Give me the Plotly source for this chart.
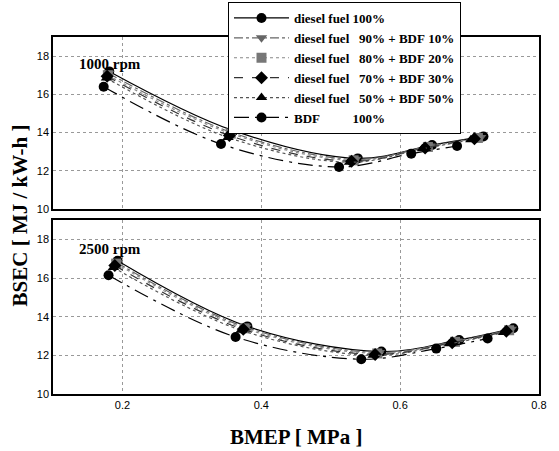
import plotly.graph_objects as go

series_names = [
    "diesel fuel 100%",
    "diesel fuel   90% + BDF 10%",
    "diesel fuel   80% + BDF 20%",
    "diesel fuel   70% + BDF 30%",
    "diesel fuel   50% + BDF 50%",
    "BDF          100%",
]

# 1000 rpm
bmep_1000 = [
    [0.181, 0.360, 0.539, 0.646, 0.720],
    [0.180, 0.358, 0.536, 0.643, 0.716],
    [0.179, 0.356, 0.533, 0.640, 0.712],
    [0.178, 0.354, 0.530, 0.636, 0.707],
    [0.177, 0.352, 0.527, 0.632, 0.702],
    [0.173, 0.342, 0.512, 0.616, 0.682],
]
bsec_1000 = [
    [17.20, 14.10, 12.65, 13.35, 13.80],
    [17.10, 14.00, 12.60, 13.30, 13.75],
    [17.00, 13.95, 12.55, 13.25, 13.72],
    [16.95, 13.85, 12.50, 13.20, 13.68],
    [16.85, 13.75, 12.45, 13.15, 13.62],
    [16.40, 13.40, 12.20, 12.90, 13.30],
]

# 2500 rpm
bmep_2500 = [
    [0.193, 0.380, 0.573, 0.685, 0.763],
    [0.192, 0.378, 0.570, 0.682, 0.760],
    [0.191, 0.376, 0.567, 0.679, 0.757],
    [0.189, 0.374, 0.564, 0.675, 0.753],
    [0.187, 0.371, 0.561, 0.671, 0.749],
    [0.180, 0.363, 0.544, 0.652, 0.726],
]
bsec_2500 = [
    [16.90, 13.50, 12.20, 12.80, 13.40],
    [16.80, 13.45, 12.15, 12.75, 13.35],
    [16.75, 13.40, 12.10, 12.70, 13.30],
    [16.65, 13.35, 12.05, 12.65, 13.25],
    [16.55, 13.30, 12.00, 12.60, 13.18],
    [16.15, 12.95, 11.80, 12.35, 12.87],
]

y_ticks = [10, 12, 14, 16, 18]
x_ticks = [0.2, 0.4, 0.6, 0.8]

symbols = ["circle", "triangle-down", "square", "diamond", "triangle-up", "circle"]
dashes = ["solid", "dashdot", "dot", "dash", "dot", "longdashdot"]
line_colors = ["black", "#666666", "#888888", "#333333", "#555555", "black"]
marker_colors = ["black", "#666666", "#777777", "black", "black", "black"]

fig = go.Figure()
for i, name in enumerate(series_names):
    fig.add_trace(go.Scatter(
        x=bmep_1000[i], y=bsec_1000[i], mode="lines+markers",
        name="<b>" + name.replace(" ", "\u00a0") + "</b>",
        line=dict(color=line_colors[i], width=1.2, dash=dashes[i], shape="spline"),
        marker=dict(symbol=symbols[i], size=10, color=marker_colors[i]),
        xaxis="x", yaxis="y2", showlegend=True,
    ))
for i, name in enumerate(series_names):
    fig.add_trace(go.Scatter(
        x=bmep_2500[i], y=bsec_2500[i], mode="lines+markers",
        name=name,
        line=dict(color=line_colors[i], width=1.2, dash=dashes[i], shape="spline"),
        marker=dict(symbol=symbols[i], size=10, color=marker_colors[i]),
        xaxis="x2", yaxis="y", showlegend=False,
    ))

axis_common = dict(
    range=[10, 19], tickvals=y_ticks, showgrid=True, gridcolor="#999999",
    griddash="dot", gridwidth=1, showline=True, linecolor="black", linewidth=1.5,
    mirror=True, zeroline=False, ticks="", tickfont=dict(family="Liberation Sans", size=11, color="black"),
)
xaxis_common = dict(
    range=[0.1, 0.8], tickvals=x_ticks, showgrid=True, gridcolor="#999999",
    griddash="dot", gridwidth=1, showline=True, linecolor="black", linewidth=1.5,
    mirror=True, zeroline=False, ticks="", tickfont=dict(family="Liberation Sans", size=11, color="black"),
)

fig.update_layout(
    width=559, height=451,
    margin=dict(l=53, r=20, t=37, b=57, autoexpand=False),
    paper_bgcolor="white", plot_bgcolor="white",
    xaxis=dict(domain=[0, 1], anchor="y", **xaxis_common),
    xaxis2=dict(domain=[0, 1], anchor="y2", showticklabels=False, **{k: v for k, v in xaxis_common.items() if k != "tickfont"}),
    yaxis=dict(domain=[0, 0.487], anchor="x", **axis_common),
    yaxis2=dict(domain=[0.518, 1.0], anchor="x2", **axis_common),
    legend=dict(
        xref="container", yref="container",
        x=228 / 559, y=1 - 2 / 451, xanchor="left", yanchor="top",
        bgcolor="white", bordercolor="black", borderwidth=1,
        font=dict(family="Liberation Serif", size=13, color="black"),
        itemwidth=55, tracegroupgap=0,
    ),
    annotations=[
        dict(text="<b>1000 rpm</b>", x=0.182, y=17.6, xref="x", yref="y2", showarrow=False,
             font=dict(family="Liberation Serif", size=15, color="black")),
        dict(text="<b>2500 rpm</b>", x=0.182, y=17.5, xref="x", yref="y", showarrow=False,
             font=dict(family="Liberation Serif", size=15, color="black")),
        dict(text="<b>BSEC [ MJ / kW-h ]</b>", x=-0.068, y=0.5, xref="paper", yref="paper",
             textangle=-90, showarrow=False, xanchor="center", yanchor="middle",
             font=dict(family="Liberation Serif", size=21, color="black")),
        dict(text="<b>BMEP [ MPa ]</b>", x=0.5, y=-0.12, xref="paper", yref="paper",
             showarrow=False, xanchor="center", yanchor="middle",
             font=dict(family="Liberation Serif", size=21, color="black")),
    ],
)

fig.write_html("out.html", config={"displayModeBar": False},
               post_script="document.body.style.margin='0';")
